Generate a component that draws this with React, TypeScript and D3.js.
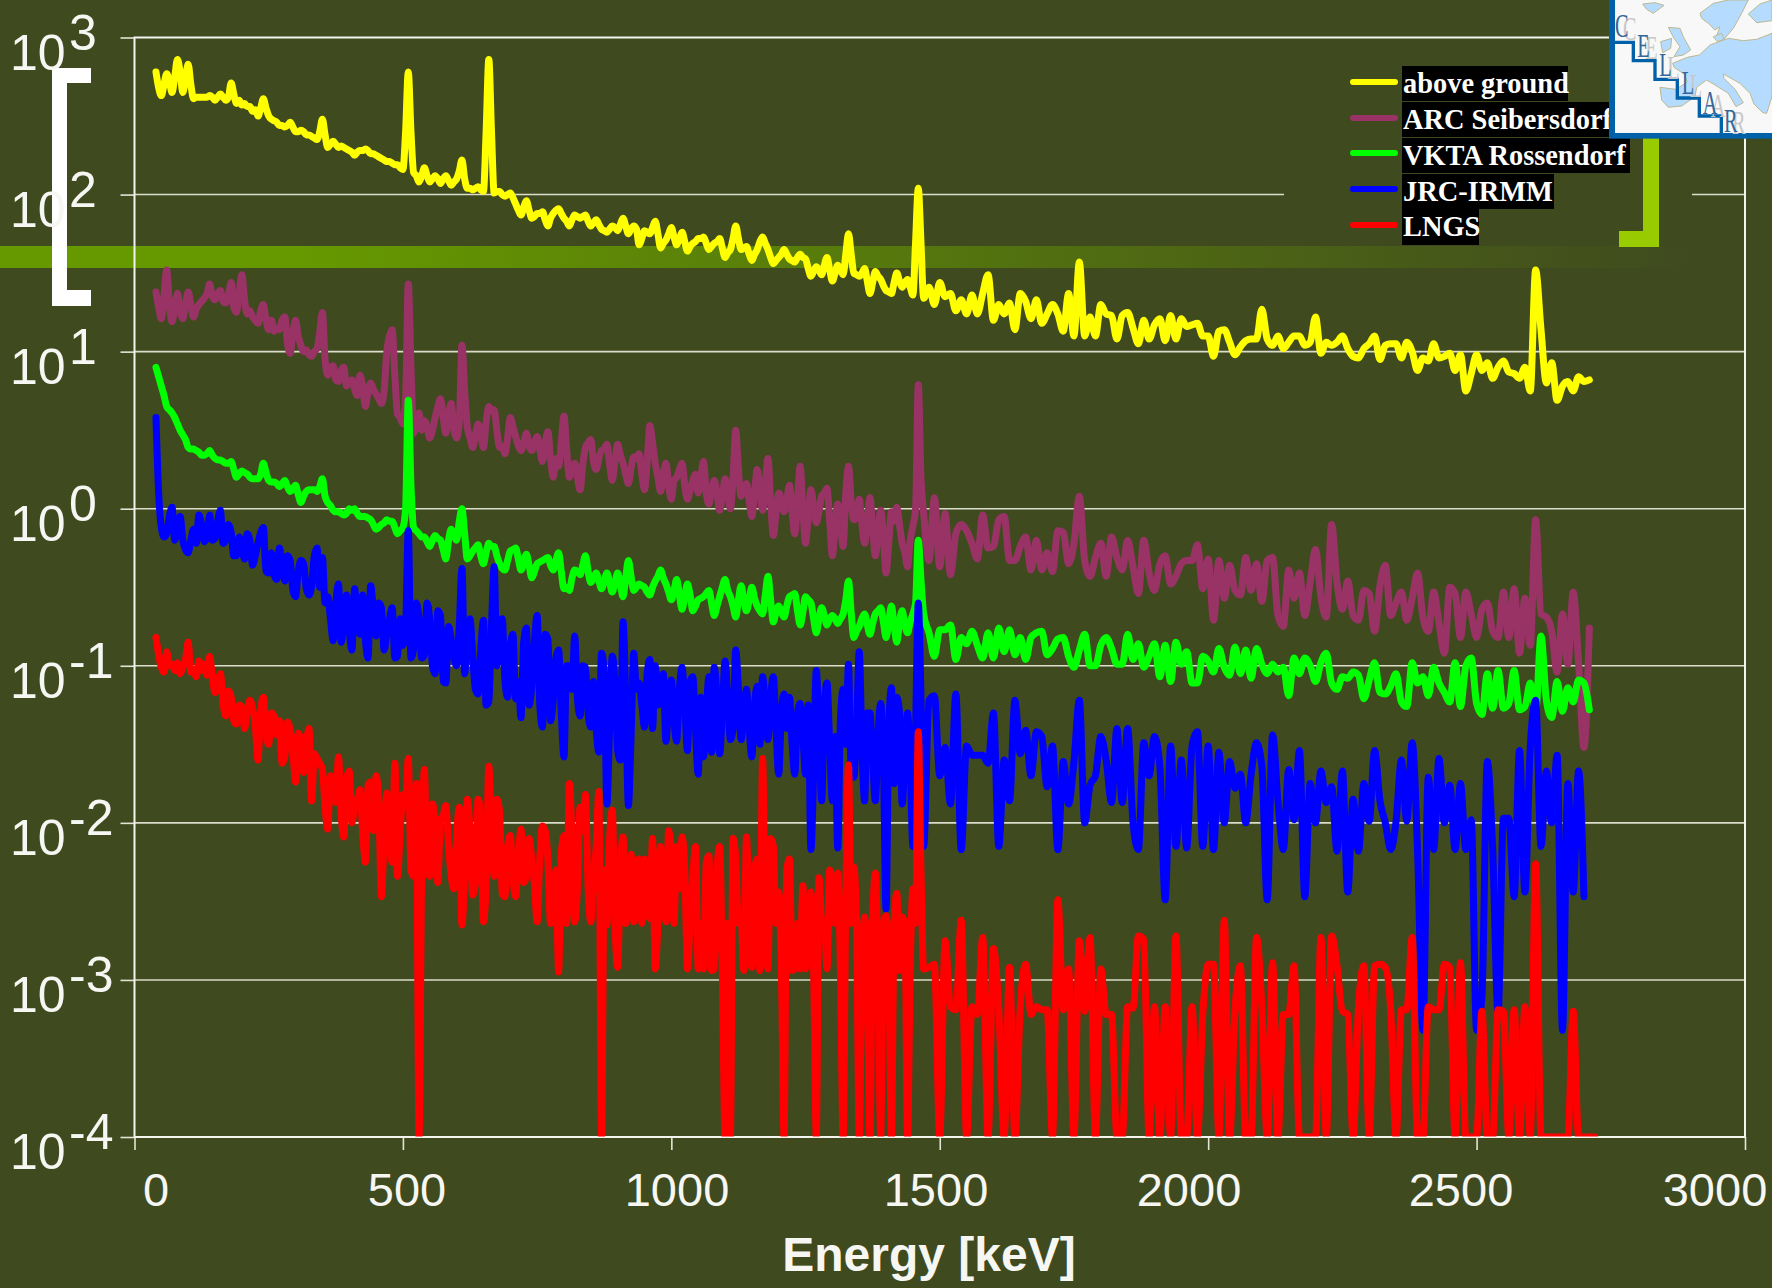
import React, { useEffect, useRef } from "react";
import * as d3 from "d3";

// all series are log10(rate)
// main arrays: one point per 10 keV from 40 keV
// *Mid arrays: the in-between points (45, 55, ...) of the finer binning below about 1470 keV
const aboveGround = [
  2.78,2.63,2.77,2.65,2.86,2.65,2.83,2.61,2.62,2.62,
  2.63,2.60,2.64,2.60,2.71,2.58,2.57,2.56,2.53,2.50,
  2.61,2.50,2.47,2.44,2.43,2.46,2.40,2.41,2.38,2.37,
  2.35,2.48,2.30,2.34,2.30,2.30,2.28,2.25,2.28,2.29,
  2.26,2.25,2.23,2.21,2.20,2.19,2.16,2.78,2.14,2.08,
  2.17,2.08,2.12,2.07,2.12,2.06,2.10,2.22,2.04,2.03,
  2.05,2.02,2.86,2.01,2.02,1.99,2.01,1.94,1.87,1.96,
  1.85,1.88,1.89,1.80,1.88,1.91,1.85,1.80,1.87,1.85,
  1.87,1.80,1.84,1.78,1.76,1.80,1.77,1.85,1.75,1.80,
  1.68,1.77,1.75,1.83,1.66,1.71,1.79,1.68,1.76,1.64,
  1.69,1.72,1.73,1.65,1.69,1.72,1.60,1.65,1.80,1.65,
  1.67,1.58,1.65,1.73,1.65,1.56,1.60,1.65,1.59,1.57,
  1.62,1.59,1.48,1.54,1.49,1.60,1.45,1.55,1.49,1.75,
  1.50,1.48,1.53,1.37,1.51,1.46,1.39,1.37,1.50,1.41,
  1.46,1.36,2.04,1.34,1.41,1.30,1.44,1.35,1.37,1.26,
  1.33,1.24,1.36,1.24,1.37,1.49,1.20,1.30,1.24,1.31,
  1.14,1.37,1.32,1.21,1.33,1.18,1.24,1.30,1.24,1.13,
  1.37,1.10,1.57,1.10,1.22,1.10,1.30,1.24,1.23,1.08,
  1.23,1.25,1.15,1.05,1.20,1.08,1.17,1.21,1.07,1.23,
  1.08,1.21,1.16,1.17,1.18,1.10,1.10,.97,1.13,1.14,
  1.06,.98,1.03,1.07,1.08,1.08,1.27,1.08,1.04,1.10,
  1.02,1.06,1.10,1.10,1.04,1.06,1.22,.99,1.06,1.04,
  1.06,1.10,1.02,.97,.96,1.02,1.05,1.10,.95,1.04,
  1.05,1.05,.96,1.06,1.00,.88,.96,.94,1.05,.96,
  .97,.99,.88,.98,.75,.86,.98,.88,.93,.83,
  .90,.94,.87,.86,.83,.90,.75,1.52,1.14,.80,
  .93,.69,.78,.81,.75,.84,.81,.82,
];
const aboveGroundMid = [
  2.68,2.70,2.72,2.75,2.78,2.74,2.70,2.62,2.62,2.62,
  2.62,2.62,2.62,2.62,2.64,2.60,2.58,2.56,2.54,2.55,
  2.55,2.48,2.46,2.44,2.44,2.43,2.40,2.40,2.38,2.36,
  2.40,2.38,2.32,2.32,2.31,2.29,2.27,2.27,2.28,2.28,
  2.26,2.24,2.22,2.21,2.19,2.17,2.40,2.40,2.12,2.12,
  2.12,2.10,2.10,2.10,2.09,2.08,2.15,2.10,2.04,2.04,
  2.03,2.40,2.40,2.02,2.00,2.00,1.98,1.90,1.92,1.90,
  1.86,1.88,1.84,1.85,1.90,1.88,1.83,1.84,1.86,1.86,
  1.83,1.82,1.81,1.77,1.78,1.79,1.81,1.80,1.78,1.78,
  1.72,1.76,1.79,1.75,1.69,1.75,1.73,1.72,1.70,1.67,
  1.70,1.72,1.69,1.67,1.70,1.66,1.63,1.72,1.72,1.66,
  1.62,1.62,1.70,1.69,1.60,1.58,1.62,1.62,1.58,1.60,
  1.60,1.53,1.51,1.52,1.55,1.52,1.50,1.52,1.62,1.62,
  1.49,1.50,1.45,1.44,1.48,1.42,1.38,1.44,1.45,1.44,
  1.41,1.70,1.70,
];

const arcSeibersdorf = [
  1.38,1.21,1.52,1.19,1.37,1.21,1.38,1.22,1.30,1.34,
  1.43,1.33,1.39,1.31,1.44,1.25,1.49,1.24,1.22,1.18,
  1.30,1.14,1.13,1.14,1.22,.99,1.20,1.04,1.01,.97,
  1.02,1.25,.85,.91,.81,.90,.81,.76,.85,.65,
  .80,.73,.67,1.00,1.14,.60,.54,1.43,.48,.61,
  .56,.45,.58,.70,.48,.67,.45,1.04,.52,.39,
  .54,.39,.65,.63,.39,.35,.58,.46,.37,.48,
  .37,.46,.30,.49,.20,.27,.59,.20,.29,.12,
  .39,.44,.25,.37,.41,.18,.41,.29,.16,.33,
  .35,.12,.53,.29,.11,.29,.06,.20,.29,.06,
  .18,.10,.30,.03,.18,-.01,.19,0,.50,.08,
  .16,-.05,.25,-.01,.32,-.17,.10,-.02,.15,-.16,
  .27,-.22,.12,-.09,.08,.13,-.30,.03,-.24,.27,
  -.07,.06,-.22,.07,-.30,-.01,-.41,-.02,.01,-.22,
  -.37,-.11,.79,-.03,-.33,.07,-.37,-.03,-.42,-.16,
  -.10,-.14,-.22,-.32,-.04,-.25,-.24,-.07,-.05,-.33,
  -.33,-.24,-.18,-.39,-.20,-.39,-.28,-.40,-.14,-.15,
  -.35,-.22,.08,-.33,-.43,-.31,-.22,-.43,-.18,-.31,
  -.39,-.20,-.37,-.54,-.20,-.41,-.52,-.35,-.30,-.48,
  -.43,-.35,-.33,-.33,-.23,-.51,-.32,-.71,-.33,-.57,
  -.36,-.52,-.55,-.31,-.52,-.35,-.59,-.33,-.31,-.68,
  -.75,-.39,-.57,-.41,-.68,-.47,-.26,-.56,-.69,-.10,
  -.47,-.64,-.46,-.68,-.71,-.52,-.54,-.78,-.49,-.36,
  -.68,-.60,-.53,-.71,-.57,-.41,-.69,-.78,-.53,-.73,
  -.92,-.50,-.54,-.82,-.53,-.67,-.82,-.64,-.60,-.78,
  -.82,-.53,-.82,-.51,-.92,-.57,-.87,-.07,-.67,-.69,
  -.78,-1.04,-.67,-.99,-.53,-.98,-1.52,-.76,
];
const arcMid = [
  1.28,1.36,1.30,1.28,1.26,1.30,1.30,1.27,1.32,1.37,
  1.35,1.37,1.32,1.36,1.28,1.38,1.33,1.26,1.20,1.26,
  1.20,1.20,1.15,1.20,1.05,1.12,1.10,1.00,.98,1.00,
  1.12,.95,.90,.82,.88,.78,.82,.72,.78,.74,
  .76,.70,.75,1.10,.85,.58,.70,.90,.55,.50,
  .52,.50,.65,.58,.60,.50,.55,.75,.45,.47,
  .47,.55,.62,.50,.40,.45,.52,.40,.42,.40,
  .42,.38,.42,.32,.32,.42,.38,.25,.20,.28,
  .42,.30,.32,.38,.28,.30,.34,.22,.26,.32,
  .22,.30,.42,.20,.22,.15,.18,.25,.15,.12,
  .22,.20,.10,.12,.10,.08,.10,.20,.25,.12,
  .05,.10,.12,.15,.05,-.03,.06,.05,-.02,.05,
  .00,-.05,.02,-.02,.10,-.08,-.12,-.10,.10,.05,
  -.05,-.10,-.08,-.12,-.15,-.18,-.22,-.08,-.10,-.28,
  -.20,.00,.20,
];

const vktaRossendorf = [
  .90,.78,.65,.61,.54,.47,.39,.38,.36,.34,
  .37,.32,.31,.29,.30,.20,.24,.22,.19,.19,
  .29,.18,.17,.14,.18,.11,.15,.04,.11,.12,
  .11,.19,.04,-.01,-.02,-.04,0,0,-.05,-.05,
  -.07,-.13,-.10,-.07,-.08,-.16,-.12,.69,-.12,-.16,
  -.18,-.24,-.17,-.20,-.32,-.13,-.20,0,-.32,-.27,
  -.23,-.35,-.22,-.24,-.35,-.39,-.27,-.25,-.39,-.29,
  -.44,-.35,-.33,-.31,-.39,-.28,-.51,-.52,-.39,-.42,
  -.30,-.47,-.41,-.51,-.41,-.53,-.41,-.56,-.33,-.52,
  -.48,-.50,-.55,-.46,-.39,-.48,-.58,-.45,-.64,-.48,
  -.65,-.58,-.56,-.52,-.68,-.56,-.45,-.56,-.69,-.49,
  -.65,-.50,-.62,-.67,-.43,-.72,-.62,-.69,-.56,-.54,
  -.74,-.56,-.60,-.79,-.63,-.74,-.68,-.73,-.67,-.46,
  -.82,-.75,-.67,-.80,-.67,-.63,-.82,-.62,-.85,-.65,
  -.79,-.67,-.20,-.67,-.79,-.94,-.77,-.77,-.74,-.96,
  -.82,-.86,-.78,-.87,-.95,-.79,-.95,-.76,-.91,-.77,
  -.93,-.82,-.96,-.82,-.79,-.78,-.93,-.89,-.83,-.82,
  -.94,-1.01,-.90,-.80,-1.00,-1.00,-.87,-.82,-.89,-.99,
  -.99,-.80,-.96,-.86,-1.01,-.94,-.86,-1.07,-.87,-1.10,
  -.85,-.99,-.91,-1.11,-1.11,-.94,-.97,-1.04,-.89,-1.01,
  -1.06,-.88,-1.05,-.90,-1.08,-.89,-.99,-1.05,-.99,-1.04,
  -1.01,-1.19,-.95,-1.05,-.95,-1.00,-1.10,-.98,-.92,-1.11,
  -1.15,-1.07,-1.08,-1.04,-1.06,-1.21,-1.09,-.98,-1.17,-1.18,
  -1.13,-1.05,-1.23,-1.26,-.98,-1.11,-1.07,-1.19,-1.01,-1.11,
  -1.17,-1.23,-.98,-1.26,-1.00,-.95,-1.24,-1.31,-1.05,-1.27,
  -1.03,-1.27,-1.24,-1.03,-1.28,-1.26,-1.11,-1.30,-.81,-1.22,
  -1.33,-1.10,-1.29,-1.14,-1.23,-1.09,-1.11,-1.28,
];
const vktaMid = [
  .84,.72,.63,.58,.50,.44,.38,.37,.34,.35,
  .34,.31,.30,.29,.25,.22,.23,.20,.19,.22,
  .23,.17,.16,.16,.14,.13,.09,.08,.12,.12,
  .14,.08,.02,-.02,-.03,-.03,-.01,-.03,-.05,-.06,
  -.10,-.12,-.09,-.08,-.12,-.14,.00,.15,-.14,-.18,
  -.21,-.20,-.19,-.26,-.20,-.17,-.08,-.16,-.30,-.25,
  -.30,-.28,-.24,-.30,-.38,-.33,-.26,-.32,-.34,-.36,
  -.40,-.34,-.32,-.36,-.33,-.40,-.50,-.44,-.40,-.36,
  -.40,-.44,-.46,-.46,-.47,-.47,-.48,-.44,-.43,-.50,
  -.49,-.53,-.50,-.43,-.44,-.53,-.52,-.55,-.56,-.55,
  -.62,-.57,-.54,-.60,-.62,-.50,-.52,-.62,-.58,-.58,
  -.58,-.57,-.65,-.55,-.58,-.66,-.66,-.62,-.55,-.65,
  -.66,-.58,-.70,-.70,-.68,-.70,-.70,-.70,-.58,-.66,
  -.78,-.70,-.74,-.73,-.65,-.72,-.72,-.74,-.72,-.74,
  -.72,-.60,-.45,
];

const jrcIrmm = [
  .58,-.12,-.16,.01,-.12,-.20,-.28,-.13,-.04,-.21,
  -.04,-.19,-.01,-.20,-.15,-.30,-.25,-.16,-.36,-.22,
  -.12,-.41,-.42,-.25,-.46,-.33,-.56,-.33,-.51,-.49,
  -.25,-.31,-.56,-.84,-.48,-.71,-.77,-.51,-.80,-.83,
  -.49,-.81,-.63,-.80,-.63,-.94,-.87,-.14,-.89,-.70,
  -.93,-.71,-1.05,-.68,-1.11,-.83,-1.00,-.38,-.80,-.94,
  -1.18,-.71,-1.23,-.37,-.73,-1.09,-.87,-1.21,-1.33,-.76,
  -1.13,-.68,-1.39,-.83,-1.22,-.90,-1.58,-1.00,-.81,-1.32,
  -1.01,-1.39,-1.40,-.92,-1.88,-.94,-1.54,-.72,-1.89,-.92,
  -1.11,-1.39,-.96,-1.00,-1.22,-1.48,-1.09,-1.48,-1.01,-1.54,
  -1.07,-1.69,-1.58,-1.07,-1.01,-1.56,-.97,-1.47,-.90,-1.47,
  -1.15,-1.58,-1.13,-1.07,-1.47,-1.07,-1.69,-1.18,-1.20,-1.69,
  -1.24,-1.69,-2.17,-1.03,-1.86,-1.11,-1.86,-2.16,-1.15,-.99,
  -1.71,-.91,-1.86,-1.30,-1.86,-1.24,-2.55,-1.14,-1.20,-1.88,
  -1.30,-2.15,-.60,-2.15,-1.22,-1.19,-1.70,-1.52,-1.88,-1.18,
  -2.17,-1.51,-1.57,-1.57,-1.57,-1.62,-1.30,-2.15,-1.60,-1.86,
  -1.22,-1.56,-1.41,-1.70,-1.42,-1.45,-1.77,-1.51,-2.17,-1.61,
  -1.88,-1.61,-1.22,-2.00,-1.76,-1.70,-1.45,-1.60,-1.87,-1.40,
  -1.87,-1.40,-2.00,-2.17,-1.49,-1.70,-1.45,-1.64,-2.49,-1.51,
  -2.15,-1.60,-2.16,-1.51,-1.42,-2.15,-1.51,-2.17,-1.55,-2.00,
  -1.61,-1.78,-1.69,-2.00,-1.69,-1.49,-1.64,-2.49,-1.44,-1.86,
  -2.17,-1.66,-1.98,-1.54,-2.47,-1.75,-2.00,-1.67,-1.87,-1.77,
  -2.18,-1.67,-2.44,-1.85,-2.18,-1.75,-1.99,-1.54,-1.86,-2.00,
  -2.17,-1.99,-1.60,-1.99,-1.49,-2.17,-3.32,-1.71,-2.17,-1.59,
  -2.00,-1.76,-2.17,-1.75,-2.17,-1.98,-3.32,-3.10,-1.61,-2.17,
  -3.21,-1.97,-1.97,-2.47,-1.54,-2.44,-1.52,-1.22,-2.15,-1.67,
  -2.00,-1.57,-3.32,-1.75,-2.44,-1.67,-2.47,
];
const jrcMid = [
  .10,-.18,-.05,-.20,-.05,-.26,-.20,-.22,-.10,-.18,
  -.20,-.08,-.22,-.10,-.30,-.18,-.32,-.20,-.30,-.15,
  -.40,-.28,-.45,-.35,-.30,-.52,-.40,-.35,-.55,-.30,
  -.50,-.60,-.70,-.60,-.85,-.55,-.90,-.70,-.55,-.95,
  -.65,-.60,-.90,-.70,-.95,-.70,-.75,-.95,-.60,-.95,
  -.60,-1.00,-.65,-1.10,-.75,-.95,-.75,-1.05,-.70,-1.15,
  -.90,-1.25,-.75,-1.00,-.70,-1.20,-.80,-1.10,-.85,-1.25,
  -.85,-1.25,-.80,-1.35,-.95,-1.30,-1.00,-1.15,-1.20,-1.00,
  -1.30,-1.10,-1.55,-1.05,-1.40,-1.10,-1.60,-1.20,-1.45,-1.15,
  -1.25,-1.05,-1.40,-1.25,-1.05,-1.25,-1.35,-1.15,-1.25,-1.10,
  -1.40,-1.20,-1.30,-1.55,-1.20,-1.30,-1.20,-1.40,-1.15,-1.30,
  -1.40,-1.25,-1.50,-1.25,-1.20,-1.40,-1.30,-1.40,-1.50,-1.30,
  -1.45,-1.25,-1.70,-1.40,-1.25,-1.50,-1.45,-1.35,-1.50,-1.70,
  -1.40,-1.50,-1.30,-1.60,-1.45,-1.60,-1.40,-1.75,-1.30,-1.60,
  -1.65,-1.40,-1.20,
];

const lngs = [
  -.82,-1.01,-.91,-.99,-.98,-1.01,-.85,-1.02,-.97,-.99,
  -.94,-1.17,-1.05,-1.32,-1.20,-1.37,-1.27,-1.28,-1.27,-1.60,
  -1.20,-1.50,-1.32,-1.35,-1.58,-1.41,-1.74,-1.47,-1.50,-1.86,
  -1.59,-1.66,-2.04,-1.78,-1.58,-2.09,-1.67,-1.90,-1.79,-2.25,
  -1.74,-1.70,-2.47,-1.81,-2.25,-2.34,-1.82,-1.59,-2.34,-4,
  -1.66,-2.34,-2.01,-1.98,-1.89,-2.34,-2.08,-2.65,-1.85,-2.46,
  -1.85,-2.63,-1.64,-2.34,-1.93,-2.47,-2.08,-2.47,-2.04,-2.34,
  -2.23,-2.63,-2.02,-2.23,-2.63,-2.95,-2.08,-1.75,-2.63,-1.90,
  -1.82,-2.63,-2.15,-4,-2.65,-1.92,-2.92,-2.09,-2.44,-2.63,
  -2.23,-2.23,-2.61,-2.93,-2.15,-2.63,-2.23,-2.15,-2.09,-2.93,
  -2.34,-2.93,-2.93,-2.21,-2.93,-2.15,-4,-4,-2.23,-2.61,
  -2.09,-2.92,-2.23,-1.59,-2.93,-2.15,-2.44,-4,-2.23,-2.93,
  -2.93,-2.93,-2.44,-4,-2.62,-2.93,-2.44,-2.32,-4,-1.63,
  -2.28,-4,-2.60,-4,-2.32,-4,-2.59,-4,-2.45,-2.60,
  -4,-2.42,-1.42,-2.93,-2.92,-2.90,-4,-2.75,-3.17,-3.19,
  -2.62,-4,-3.17,-3.22,-2.73,-4,-2.80,-3.19,-4,-2.92,
  -4,-3.17,-2.90,-3.22,-3.17,-3.19,-3.19,-4,-2.49,-3.19,
  -2.93,-4,-2.75,-3.2,-2.73,-4,-2.93,-3.22,-3.22,-4,
  -4,-3.17,-3.18,-2.72,-2.74,-4,-3.17,-4,-3.17,-4,
  -2.72,-4,-4,-3.17,-4,-3.22,-2.90,-2.90,-4,-2.62,
  -4,-3.19,-2.91,-4,-4,-2.73,-3.17,-4,-2.89,-4,
  -3.22,-3.22,-2.91,-4,-4,-4,-4,-2.73,-4,-2.72,
  -2.91,-3.2,-3.22,-4,-3.17,-2.91,-4,-2.91,-2.90,-2.92,
  -3.19,-4,-3.19,-3.19,-2.73,-4,-4,-3.17,-3.19,-3.19,
  -2.90,-2.92,-4,-2.89,-4,-4,-4,-3.20,-4,-4,
  -3.19,-3.20,-4,-3.19,-4,-3.17,-4,-2.26,-4,-4,
  -4,-4,-4,-4,-3.20,-4,-4,-4,-4,
];
const lngsMid = [
  -.93,-1.04,-1.00,-1.03,-1.05,-.96,-1.04,-1.07,-1.03,-1.06,
  -1.07,-1.12,-1.24,-1.16,-1.35,-1.25,-1.40,-1.22,-1.38,-1.30,
  -1.42,-1.30,-1.44,-1.62,-1.36,-1.55,-1.43,-1.68,-1.40,-1.56,
  -1.62,-1.90,-1.70,-1.87,-1.95,-1.72,-2.00,-1.85,-2.06,-1.76,
  -2.05,-1.88,-2.10,-2.15,-1.62,-2.05,-1.90,-2.30,-1.75,-2.30,
  -2.30,-1.88,-2.38,-1.95,-2.15,-2.42,-1.90,-2.35,-2.05,-2.38,
  -1.95,-2.40,-2.10,-1.85,-2.45,-2.15,-2.36,-2.20,-2.38,-2.10,
  -2.40,-2.22,-2.05,-2.64,-2.30,-2.20,-2.64,-2.10,-2.42,-2.05,
  -2.42,-2.35,-1.80,-2.30,-2.10,-2.64,-2.30,-2.64,-2.20,-2.35,
  -2.64,-2.42,-2.10,-2.64,-2.35,-2.05,-2.64,-2.42,-2.30,-2.64,
  -2.15,-2.64,-2.25,-2.94,-2.30,-2.94,-2.64,-2.10,-2.64,-2.94,
  -2.64,-2.30,-2.94,-2.64,-2.10,-2.64,-2.94,-2.30,-2.94,-2.64,
  -2.40,-2.64,-2.94,-2.35,-2.64,-2.30,-2.64,-2.94,-2.50,-2.64,
  -2.64,-2.94,-2.94,-2.64,-2.94,-2.64,-2.94,-2.64,-2.94,-2.64,
  -2.94,-2.64,-2.30,
];

const seriesNames = ["above ground", "ARC Seibersdorf", "VKTA Rossendorf", "JRC-IRMM", "LNGS"];
const seriesValues = [aboveGround, arcSeibersdorf, vktaRossendorf, jrcIrmm, lngs];
const seriesMids = [aboveGroundMid, arcMid, vktaMid, jrcMid, lngsMid];
const seriesColors = ["#ffff00", "#993366", "#00ff00", "#0000ff", "#ff0000"];

const firstEnergy = 40;
const energyStep = 10;
const xTicks = [0, 500, 1000, 1500, 2000, 2500, 3000];
const yExponents = [3, 2, 1, 0, -1, -2, -3, -4];
const xTitle = "Energy [keV]";

const BG = "#3f4a1f";
const WHITE = "#f6f6f2";
const W = 1772;
const H = 1288;

// x labels in the slide are not centred on their ticks
const xLabelCentres = [156, 407, 677, 936, 1189, 1461, 1715];
// right edges of the black boxes behind the legend text
const legendBoxRight = [1568, 1611, 1630, 1554, 1479];
const logoLetters = ["C", "E", "L", "L", "A", "R"];

const Logo = () => (
  <g transform="translate(1600,0) scale(0.3333)">
    <rect x={27} y={-5} width={500} height={421} fill="#0060a8" />
    <rect x={45} y={-5} width={480} height={404} fill="#f8f8f8" />
    <g fill="#b5dcff" stroke="#bdb890" strokeWidth={3} strokeLinejoin="round">
      <path d="M128 12 L165 8 L192 16 L160 40 L140 28 Z" />
      <path d="M300 40 L340 10 L385 0 L445 0 L425 40 L400 85 L372 118 L350 108 L360 80 L345 90 L325 70 L305 55 Z" />
      <path d="M445 42 L480 12 L516 0 L516 62 L470 68 Z" />
      <path d="M205 82 L240 85 L250 110 L272 150 L250 165 L222 170 L240 140 L222 115 Z" />
      <path d="M182 125 L215 115 L212 145 L188 158 Z" />
      <path d="M218 190 L262 172 L298 165 L330 135 L385 115 L430 122 L470 118 L516 100 L516 290 L500 340 L488 338 L462 312 L450 280 L420 250 L370 222 L372 235 L405 268 L430 308 L408 320 L385 280 L345 255 L320 240 L290 262 L285 290 L245 318 L205 322 L185 300 L180 262 L228 268 L262 246 L252 222 L222 202 Z" />
      <path d="M340 110 L365 100 L372 118 L352 125 Z" />
    </g>
    <path d="M45 127 H100 V182 H165 V238 H232 V294 H298 V348 H364 V400" fill="none" stroke="#0060a8" strokeWidth={10} />
    {logoLetters.map((c, i) => (
      <g key={i} transform={`translate(${[45, 112, 178, 245, 308, 372][i]},${[112, 170, 228, 283, 342, 395][i]})`} fontFamily="Liberation Serif" fontSize={98}>
        <text x={0} y={0} transform="translate(24,8) scale(0.62,1)" fill="#c8c8c8">{c}</text>
        <text x={0} y={0} transform="scale(0.62,1)" fill="#336699">{c}</text>
      </g>
    ))}
  </g>
);

export default function App() {
  const axisRef = useRef<SVGGElement>(null);
  const linesRef = useRef<SVGGElement>(null);

  const x = d3.scaleLinear().domain([0, 3000]).range([134.5, 1745]);
  const y = d3.scaleLog().domain([1e-4, 1e3]).range([1137, 37.5]);

  useEffect(() => {
    // axes: ticks only, the labels are placed below by hand like in the slide
    const ag = d3.select(axisRef.current);
    ag.selectAll("*").remove();

    const ya = ag.append("g")
      .attr("transform", "translate(134.5,0)")
      .call(d3.axisLeft(y).tickValues(yExponents.map((e) => 10 ** e)).tickSize(14).tickFormat(() => ""));
    ya.select(".domain").remove();
    ya.selectAll("line").attr("stroke", "#e4e4d6").attr("stroke-width", 1.6);

    ag.append("g")
      .selectAll("line")
      .data(yExponents.slice(1, 7))
      .enter()
      .append("line")
      .attr("x1", x(0))
      .attr("x2", x(3000))
      .attr("y1", (e) => y(10 ** e))
      .attr("y2", (e) => y(10 ** e))
      .attr("stroke", "#dcdccb")
      .attr("stroke-width", 1.6);

    const xa = ag.append("g")
      .attr("transform", "translate(0,1137)")
      .call(d3.axisBottom(x).tickValues(xTicks).tickSize(13).tickFormat(() => ""));
    xa.select(".domain").remove();
    xa.selectAll("line").attr("stroke", "#e4e4d6").attr("stroke-width", 1.6);

    ag.append("rect")
      .attr("x", x(0))
      .attr("y", y(1e3))
      .attr("width", x(3000) - x(0))
      .attr("height", y(1e-4) - y(1e3))
      .attr("fill", "none")
      .attr("stroke", "#f4f4ee")
      .attr("stroke-width", 2);

    // spectra, in legend order so LNGS ends up on top
    const line = d3.line<number[]>()
      .x((d) => x(d[0]))
      .y((d) => y(10 ** d[1]))
      .curve(d3.curveMonotoneX);

    const lg = d3.select(linesRef.current);
    lg.selectAll("*").remove();
    seriesValues.forEach((vals, i) => {
      const pts = vals.map((v, k) => [firstEnergy + k * energyStep, v]);
      seriesMids[i].forEach((v, k) => pts.push([firstEnergy + 5 + k * energyStep, v]));
      pts.sort((a, b) => d3.ascending(a[0], b[0]));
      lg.append("path")
        .attr("d", line(pts))
        .attr("fill", "none")
        .attr("stroke", seriesColors[i])
        .attr("stroke-width", 7)
        .attr("stroke-linejoin", "round")
        .attr("stroke-linecap", "round");
    });
  }, []);

  return (
    <svg width={W} height={H} viewBox={`0 0 ${W} ${H}`} style={{ position: "absolute", left: 0, top: 0, display: "block" }}>
      <defs>
        <linearGradient id="band" gradientUnits="userSpaceOnUse" x1={300} x2={1700} y1={0} y2={0}>
          <stop offset="0" stopColor="#669900" />
          <stop offset="1" stopColor={BG} />
        </linearGradient>
        <clipPath id="plot">
          <rect x={0} y={0} width={W} height={1136.5} />
        </clipPath>
      </defs>
      <rect width={W} height={H} fill={BG} />
      <rect x={0} y={246} width={1700} height={22} fill="url(#band)" />

      {/* white bracket on the left */}
      <path d="M91 68 H52 V306 H91 V290 H67 V83 H91 Z" fill="#ffffff" />

      <g ref={axisRef} />

      {/* legend sits on a plain patch that interrupts the grid */}
      <rect x={1284} y={60} width={408} height={186} fill={BG} />
      <path d="M1643 138 H1659 V247 H1619 V231 H1643 Z" fill="#99cc00" />

      <g clipPath="url(#plot)">
        <g ref={linesRef} />
      </g>

      {seriesNames.map((name, i) => {
        const top = [66, 102, 138, 174, 209][i];
        const bottom = [101, 137, 173, 209, 245][i];
        const ly = [82, 118, 153, 189, 225][i];
        return (
          <g key={name}>
            <line x1={1353} x2={1395} y1={ly} y2={ly} stroke={seriesColors[i]} strokeWidth={6} strokeLinecap="round" />
            <rect x={1402} y={top} width={legendBoxRight[i] - 1402} height={bottom - top} fill="#000" />
            <text x={1403} y={[93, 129, 165, 201, 236][i]} fill="#fff" fontFamily="Liberation Serif" fontWeight="bold" fontSize={28.4}>{name}</text>
          </g>
        );
      })}

      {yExponents.map((e) => (
        <g key={e} fill={WHITE} fontFamily="Liberation Sans" fontSize={50}>
          <text x={10} y={y(10 ** e) + 32}>10</text>
          <text x={69} y={y(10 ** e) + 12}>{e}</text>
        </g>
      ))}

      {xTicks.map((t, i) => (
        <text key={t} x={xLabelCentres[i]} y={1206} textAnchor="middle" fill={WHITE} fontFamily="Liberation Sans" fontSize={47}>{t}</text>
      ))}
      <text x={929} y={1271} textAnchor="middle" fill={WHITE} fontFamily="Liberation Sans" fontWeight="bold" fontSize={48}>{xTitle}</text>

      <Logo />
    </svg>
  );
}
